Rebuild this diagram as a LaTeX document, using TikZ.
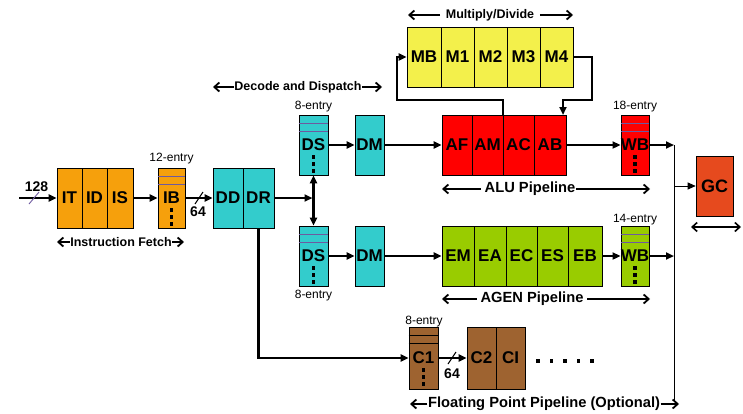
\documentclass[tikz,border=0pt]{standalone}
\usepackage{fontspec}
\setmainfont{Liberation Sans}
\usetikzlibrary{arrows.meta}
\definecolor{cOrange}{RGB}{246,160,12}
\definecolor{cTeal}{RGB}{51,204,204}
\definecolor{cRed}{RGB}{255,0,0}
\definecolor{cYellow}{RGB}{243,240,75}
\definecolor{cGreen}{RGB}{153,204,0}
\definecolor{cBrown}{RGB}{158,99,48}
\definecolor{cGC}{RGB}{230,74,30}
\definecolor{cLine}{RGB}{110,90,160}
\tikzset{
  cell/.style={draw=black, line width=0.6pt, minimum height=60pt, inner sep=0pt,
    font=\bfseries\fontsize{17}{18}\selectfont},
  conn/.style={line width=2.2pt, -{Triangle[length=8pt,width=7pt]}},
  thinconn/.style={line width=0.9pt, -{Triangle[length=8pt,width=7pt]}},
  bar/.style={line width=2.2pt},
  lab/.style={font=\bfseries\fontsize{12.5}{13}\selectfont, inner sep=0.5pt},
  biglab/.style={font=\bfseries\fontsize{14.7}{15}\selectfont, inner sep=0.5pt},
  barb/.style={line width=1.8pt, -{Straight Barb[length=5pt,width=9pt]}},
  entry/.style={font=\fontsize{12}{13}\selectfont, inner sep=0pt},
  num/.style={font=\bfseries\fontsize{14}{15}\selectfont, inner sep=0pt},
}
\newcommand\qmarks[2]{%
  \draw[#2, line width=0.7pt] ([yshift=-9pt]#1.north west) -- ([yshift=-9pt]#1.north east);
  \draw[#2, line width=0.7pt] ([yshift=-17pt]#1.north west) -- ([yshift=-17pt]#1.north east);
  \foreach \d in {12,19,26} {\fill ([yshift=-\d pt]#1.center) +(-1.7pt,-1.7pt) rectangle +(1.7pt,1.7pt);}
}
\begin{document}
\begin{tikzpicture}[x=1pt,y=-1pt]
\useasboundingbox (0,0) rectangle (743,413);
% ---------- Instruction fetch
\node[cell, fill=cOrange, minimum width=25pt] (it) at (69.5,198) {IT};
\node[cell, fill=cOrange, minimum width=25pt] (id) at (94.5,198) {ID};
\node[cell, fill=cOrange, minimum width=26pt] (is) at (120,198) {IS};
\node[cell, fill=cOrange, minimum width=27pt] (ib) at (171.5,198) {IB};
\qmarks{ib}{cLine}
\node[entry] (e12) at (171.5,159) {12-entry};
% ---------- Decode
\node[cell, fill=cTeal, minimum width=30pt] (dd) at (228,198) {DD};
\node[cell, fill=cTeal, minimum width=31pt] (dr) at (258.5,198) {DR};
\node[cell, fill=cTeal, minimum width=29pt] (dsu) at (313.5,145) {DS};
\qmarks{dsu}{cLine}
\node[cell, fill=cTeal, minimum width=29pt] (dmu) at (369.5,145) {DM};
\node[cell, fill=cTeal, minimum width=29pt] (dsl) at (313.5,256) {DS};
\qmarks{dsl}{cLine}
\node[cell, fill=cTeal, minimum width=29pt] (dml) at (369.5,256) {DM};
\node[entry] (e8a) at (313.5,107) {8-entry};
\node[entry] (e8b) at (313.5,296) {8-entry};
% ---------- Multiply / Divide
\node[cell, fill=cYellow, minimum width=34pt] (mb) at (424,57) {MB};
\node[cell, fill=cYellow, minimum width=33pt] (m1) at (457.5,57) {M1};
\node[cell, fill=cYellow, minimum width=33pt] (m2) at (490.5,57) {M2};
\node[cell, fill=cYellow, minimum width=33pt] (m3) at (523.5,57) {M3};
\node[cell, fill=cYellow, minimum width=33pt] (m4) at (556.5,57) {M4};
% ---------- ALU
\node[cell, fill=cRed, minimum width=30pt] (af) at (457,145) {AF};
\node[cell, fill=cRed, minimum width=31pt] (am) at (487.5,145) {AM};
\node[cell, fill=cRed, minimum width=31pt] (ac) at (518.5,145) {AC};
\node[cell, fill=cRed, minimum width=32pt] (ab) at (550,145) {AB};
\node[cell, fill=cRed, minimum width=28pt] (wbu) at (635,145) {WB};
\qmarks{wbu}{cLine}
\node[entry] (e18) at (635,107) {18-entry};
% ---------- AGEN
\node[cell, fill=cGreen, minimum width=32pt] (em) at (458,256) {EM};
\node[cell, fill=cGreen, minimum width=32pt] (ea) at (490,256) {EA};
\node[cell, fill=cGreen, minimum width=31pt] (ec) at (521.5,256) {EC};
\node[cell, fill=cGreen, minimum width=31pt] (es) at (552.5,256) {ES};
\node[cell, fill=cGreen, minimum width=34pt] (eb) at (585,256) {EB};
\node[cell, fill=cGreen, minimum width=28pt] (wbl) at (635,256) {WB};
\qmarks{wbl}{cLine}
\node[entry] (e14) at (635,220) {14-entry};
% ---------- FP
\node[cell, fill=cBrown, minimum width=29pt, minimum height=62pt] (c1) at (423.5,358) {C1};
\qmarks{c1}{black}
\node[entry] (e8c) at (424,322) {8-entry};
\node[cell, fill=cBrown, minimum width=29pt, minimum height=62pt] (c2) at (481.5,358) {C2};
\node[cell, fill=cBrown, minimum width=29pt, minimum height=62pt] (ci) at (510.5,358) {CI};
\foreach \xx in {538,551.5,565,578.5,592} {\fill (\xx-1.8,361-1.8) rectangle (\xx+1.8,361+1.8);}
% ---------- GC
\node[cell, fill=cGC, minimum width=37pt, font=\bfseries\fontsize{18}{19}\selectfont] (gc) at (714.5,186) {GC};
% ---------- connectors
\coordinate (in0) at (19,198);
\draw[conn] (in0) -- (it.west);
\draw[cLine, line width=0.9pt] (29,204) -- (39,192);
\node[num] (n128) at (36.5,187) {128};
\draw[conn] (is.east) -- (ib.west);
\draw[conn] (ib.east) -- (dd.west);
\draw[line width=1pt] (195,204) -- (203,192);
\node[num] (n64a) at (198,212) {64};
\coordinate (j1) at (312.5,198);
\draw[conn] (dr.east) -- (j1);
\draw[bar, {Triangle[length=8pt,width=7pt]}-{Triangle[length=8pt,width=7pt]}] (dsu.south) -- (dsl.north);
\draw[conn] (dr.south) |- (c1.west);
\draw[conn] (dsu.east) -- (dmu.west);
\draw[conn] (dmu.east) -- (af.west);
\draw[conn] (dsl.east) -- (dml.west);
\draw[conn] (dml.east) -- (em.west);
\draw[conn] (ab.east) -- (wbu.west);
\draw[conn] (eb.east) -- (wbl.west);
\coordinate (r1) at (674,145);
\coordinate (r2) at (674,256);
\coordinate (r3) at (674,186);
\coordinate (rb) at (674,402);
\draw[conn] (wbu.east) -- (r1);
\draw[conn] (wbl.east) -- (r2);
\draw[line width=0.9pt] (r1) -- (rb);
\draw[thinconn] (r3) -- (gc.west);
\draw[conn] (c1.east) -- (c2.west);
\draw[line width=1pt] (448,364) -- (456,352);
\node[num] (n64b) at (452,374) {64};
% multiply loop
\coordinate (lp1) at (397,100);
\coordinate (lp2) at (592,100);
\coordinate (abin) at (563,115);
\draw[conn] (ac.north west) |- (lp1) |- (mb.west);
\draw[conn] (m4.east) -| (lp2) -| (abin);
% ---------- span labels
\node[lab] (tif) at (121,242) {Instruction Fetch};
\coordinate (if1) at (57,242); \coordinate (if2) at (184,242);
\draw[barb] (tif.west) -- (if1); \draw[barb] (tif.east) -- (if2);
\node[lab] (tmd) at (490,15) {Multiply/Divide};
\coordinate (md1) at (408,15); \coordinate (md2) at (573,15);
\draw[barb] ([xshift=-5pt]tmd.west) -- (md1); \draw[barb] ([xshift=5pt]tmd.east) -- (md2);
\node[lab] (tdd) at (298,87) {Decode and Dispatch};
\coordinate (dp1) at (213,87); \coordinate (dp2) at (382,87);
\draw[barb] (tdd.west) -- (dp1); \draw[barb] (tdd.east) -- (dp2);
\node[biglab] (talu) at (530,189) {ALU Pipeline};
\coordinate (al1) at (442,189); \coordinate (al2) at (650,189);
\draw[barb] ([xshift=-3pt]talu.west) -- (al1); \draw[barb] (talu.east) -- (al2);
\node[biglab] (tag) at (532,299) {AGEN Pipeline};
\coordinate (ag1) at (442,299); \coordinate (ag2) at (650,299);
\draw[barb] ([xshift=-3pt]tag.west) -- (ag1); \draw[barb] ([xshift=3pt]tag.east) -- (ag2);
\node[biglab] (tfp) at (544,404) {Floating Point Pipeline (Optional)};
\coordinate (fp1) at (410,404); \coordinate (fp2) at (679,404);
\draw[barb] (tfp.west) -- (fp1); \draw[barb] (tfp.east) -- (fp2);
\coordinate (g1) at (691,227); \coordinate (g2) at (741,227);
\draw[line width=1.6pt, {Straight Barb[length=5pt,width=9pt]}-{Straight Barb[length=5pt,width=9pt]}] (g1) -- (g2);
\end{tikzpicture}
\end{document}
